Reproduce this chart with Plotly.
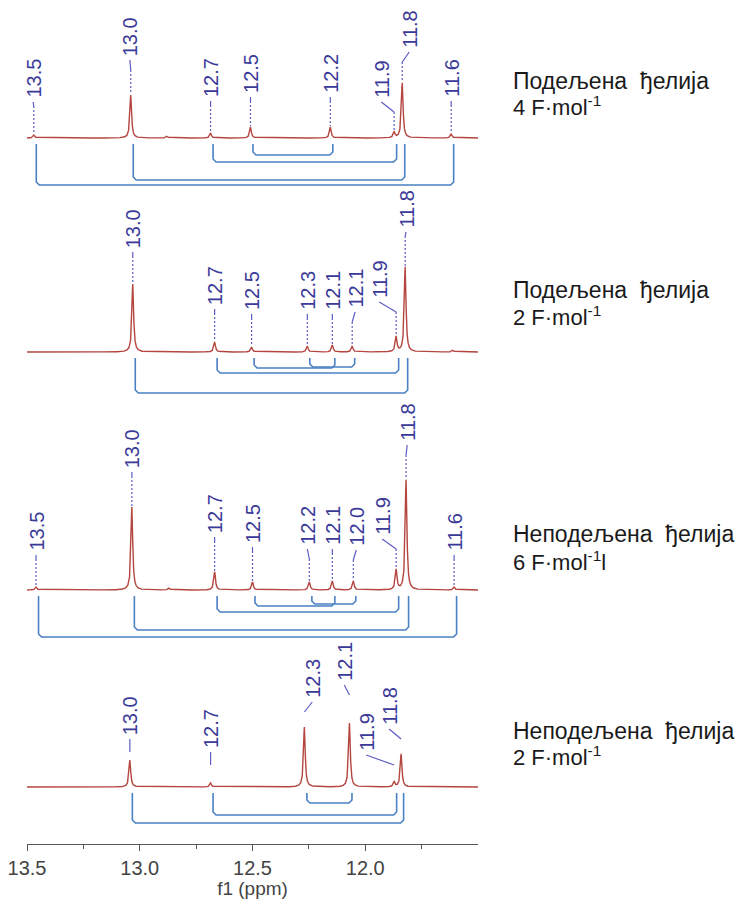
import numpy as np
import plotly.graph_objects as go

# ---------------- data (chemical shifts in ppm, intensities in arbitrary units) ----------------
# Panel 1: Подељена ђелија, 4 F·mol-1
p1_shift = [13.470, 13.040, 12.880, 12.686, 12.509, 12.155, 11.872, 11.836, 11.619]
p1_int = [3, 43, 2, 5, 11, 11, 6, 55, 4]
p1_labels = ["13.5", "13.0", "", "12.7", "12.5", "12.2", "11.9", "11.8", "11.6"]
p1_pairs = [(13.470, 11.619), (13.040, 11.836), (12.686, 11.872), (12.509, 12.155)]

# Panel 2: Подељена ђелија, 2 F·mol-1
p2_shift = [13.031, 12.668, 12.504, 12.257, 12.146, 12.058, 11.863, 11.823, 11.612]
p2_int = [68, 10, 5, 6, 7, 6, 15, 85, 2]
p2_labels = ["13.0", "12.7", "12.5", "12.3", "12.1", "12.1", "11.9", "11.8", ""]
p2_pairs = [(13.031, 11.823), (12.668, 11.863), (12.504, 12.146), (12.257, 12.058)]

# Panel 3: Неподељена ђелија, 6 F·mol-1
p3_shift = [13.460, 13.035, 12.870, 12.668, 12.500, 12.248, 12.146, 12.053, 11.863, 11.819, 11.606]
p3_int = [3, 83, 2, 18, 8, 8, 9, 9, 20, 110, 3]
p3_labels = ["13.5", "13.0", "", "12.7", "12.5", "12.2", "12.1", "12.0", "11.9", "11.8", "11.6"]
p3_pairs = [(13.460, 11.606), (13.035, 11.819), (12.668, 11.863), (12.500, 12.146), (12.248, 12.053)]

# Panel 4: Неподељена ђелија, 2 F·mol-1
p4_shift = [13.044, 12.686, 12.270, 12.070, 11.872, 11.841]
p4_int = [27, 4, 60, 64, 5, 33]
p4_labels = ["13.0", "12.7", "12.3", "12.1", "11.9", "11.8"]
p4_pairs = [(13.044, 11.841), (12.686, 11.872), (12.270, 12.070)]

panel_titles = ["Подељена  ђелија", "Подељена  ђелија", "Неподељена  ђелија", "Неподељена  ђелија"]
panel_loads = ["4 F·mol<sup>-1</sup>", "2 F·mol<sup>-1</sup>", "6 F·mol<sup>-1</sup>l", "2 F·mol<sup>-1</sup>"]

tick_vals = [13.5, 13.0, 12.5, 12.0]
tick_text = ["13.5", "13.0", "12.5", "12.0"]

# ---------------- layout / style (y in px above the x axis line) ----------------
OFF = 8                      # page body margin of the html page
H_PLOT = 844                 # screen y of the x-axis line
FIG_W, FIG_H = 745 - OFF, 899 - OFF
PLOT_L, PLOT_R = 27 - OFF, 478 - OFF
baselines = [706, 492, 254, 57]
# label x (ppm) and height of label foot above baseline (px)
p1_label_x = [13.473, 13.044, None, 12.686, 12.509, 12.155, 11.929, 11.805, 11.619]
p1_label_h = [38, 80, None, 39, 43, 43, 38, 88, 39]
p2_label_x = [13.031, 12.668, 12.504, 12.257, 12.146, 12.045, 11.938, 11.819, None]
p2_label_h = [102, 45, 40, 40, 40, 42, 52, 122, None]
p3_label_x = [13.460, 13.035, None, 12.668, 12.500, 12.257, 12.146, 12.040, 11.925, 11.814, 11.606]
p3_label_h = [37, 120, None, 55, 45, 43, 43, 42, 53, 147, 37]
p4_label_x = [13.044, 12.686, 12.235, 12.093, 11.996, 11.894]
p4_label_h = [50, 37, 87, 104, 34, 60]
p1_depth = [47, 42, 24, 17]
p2_depth = [41, 21, 16, 15]
p3_depth = [47, 40, 22, 16, 14]
p4_depth = [36, 28, 16]
text_y = [(81, 106), (290, 316), (534, 561), (731, 756)]   # screen px from top

RED = "#b4453f"
BLUE = "#4a80c4"
LBL = "#3a3a98"
LEAD = "#5c5cc4"
FONT = "Liberation Sans, Arial, sans-serif"
WIDTH = 0.0045
PX_PER_PPM = (PLOT_R - PLOT_L) / 2.0
BR_SHIFT = 2.5 / PX_PER_PPM
TEXT_X = (511 - 27) / (PLOT_R - PLOT_L)

shifts = [p1_shift, p2_shift, p3_shift, p4_shift]
ints = [p1_int, p2_int, p3_int, p4_int]
labels = [p1_labels, p2_labels, p3_labels, p4_labels]
label_x = [p1_label_x, p2_label_x, p3_label_x, p4_label_x]
label_h = [p1_label_h, p2_label_h, p3_label_h, p4_label_h]
pairs = [p1_pairs, p2_pairs, p3_pairs, p4_pairs]
depths = [p1_depth, p2_depth, p3_depth, p4_depth]

fig = go.Figure()
grid = np.linspace(11.5, 13.5, 6001)
annotations = []

solid_x, solid_y, dash_x, dash_y = [], [], [], []
br_x, br_y = [], []

for k in range(4):
    b = baselines[k]
    spec = np.zeros_like(grid)
    for s, h in zip(shifts[k], ints[k]):
        spec += h / (1 + ((grid - s) / WIDTH) ** 2)
    fig.add_trace(go.Scatter(x=grid, y=b + spec, mode="lines",
                             line=dict(color=RED, width=1.4), hoverinfo="skip", showlegend=False))
    # peak labels & leaders
    for s, h, lab, lx, lh in zip(shifts[k], ints[k], labels[k], label_x[k], label_h[k]):
        if not lab:
            continue
        annotations.append(dict(x=lx, y=b + lh, xref="x", yref="y", text=lab, textangle=-90,
                                showarrow=False, xanchor="center", yanchor="bottom",
                                font=dict(family=FONT, size=20, color=LBL)))
        y0 = b + lh - 2
        bent = abs(lx - s) > 0.004
        if k == 3:
            y1 = y0 - (10 if bent else 13)
            solid_x += [lx, s, None]
            solid_y += [y0, y1, None]
        else:
            y1 = y0 - (10 if bent else 4)
            solid_x += [lx, s, None]
            solid_y += [y0, y1, None]
            dash_x += [s, s, None]
            dash_y += [y1, b + h + 1, None]
    # coupling brackets
    for (a, c), d in zip(pairs[k], depths[k]):
        xa, xc = a - BR_SHIFT, c - BR_SHIFT
        top = b - 6
        bot = b - d
        r = 3 / PX_PER_PPM
        br_x += [xa, xa, xa - r, xc + r, xc, xc, None]
        br_y += [top, bot + 3, bot, bot, bot + 3, top, None]
    # right-hand text
    ty1, ty2 = text_y[k]
    annotations.append(dict(x=TEXT_X, y=H_PLOT - ty1, xref="paper", yref="y", text=panel_titles[k],
                            showarrow=False, xanchor="left", yanchor="middle",
                            font=dict(family=FONT, size=23, color="#1a1a1a")))
    annotations.append(dict(x=TEXT_X, y=H_PLOT - ty2, xref="paper", yref="y", text=panel_loads[k],
                            showarrow=False, xanchor="left", yanchor="middle",
                            font=dict(family=FONT, size=22, color="#1a1a1a")))

fig.add_trace(go.Scatter(x=solid_x, y=solid_y, mode="lines", line=dict(color=LEAD, width=1.2),
                         hoverinfo="skip", showlegend=False))
fig.add_trace(go.Scatter(x=dash_x, y=dash_y, mode="lines", line=dict(color=LEAD, width=1.2, dash="2px,2px"),
                         hoverinfo="skip", showlegend=False))
fig.add_trace(go.Scatter(x=br_x, y=br_y, mode="lines", line=dict(color=BLUE, width=1.6),
                         hoverinfo="skip", showlegend=False))

fig.update_layout(
    width=FIG_W, height=FIG_H,
    margin=dict(l=PLOT_L, r=FIG_W - PLOT_R, t=0, b=FIG_H - (H_PLOT - OFF)),
    paper_bgcolor="white", plot_bgcolor="white",
    annotations=annotations,
    xaxis=dict(range=[13.5001, 11.5], autorange=False, showgrid=False, zeroline=False,
               showline=True, linecolor="#555", linewidth=1.4,
               ticks="outside", ticklen=6, tickcolor="#555", tickwidth=1.4,
               tickvals=tick_vals, ticktext=tick_text, ticklabeloverflow="allow",
               minor=dict(tickvals=[13.25, 12.75, 12.25, 11.75], ticks="outside", ticklen=4,
                          tickcolor="#555", tickwidth=1.4),
               tickfont=dict(family=FONT, size=20, color="#444"),
               title=dict(text="f1 (ppm)", font=dict(family=FONT, size=19, color="#444"), standoff=0),
               automargin=False),
    yaxis=dict(range=[0, H_PLOT - OFF], autorange=False, visible=False, fixedrange=True),
)

fig.write_html("out.html")
